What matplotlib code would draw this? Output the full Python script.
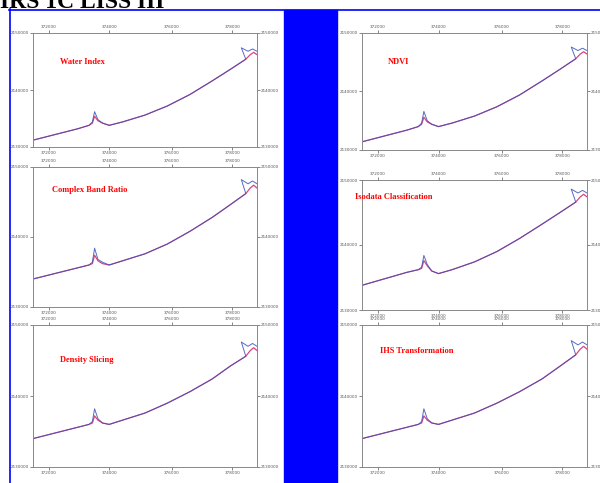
#Slide layout with six small trace panels comparing enhancement methods for IRS 1C LISS III.
import matplotlib.pyplot as plt

W, H = 600, 483

#Panel titles.
titles = ['Water Index', 'NDVI', 'Complex Band Ratio', 'Isodata Classification',
          'Density Slicing', 'IHS Transformation']

#Axis tick labels (map coordinates, hard to read on the slide).
x_ticks = [7, 34, 62, 89]
x_tick_labels = ['372000', '374000', '376000', '378000']
y_ticks = [0, 50, 100]
y_tick_labels = ['2130000', '2140000', '2150000']

#Shared x positions of the trace (percent of map width).
trace_x = [0, 5, 10, 15, 20, 25, 26.5, 27.5, 29, 31, 34, 40, 50, 60, 70, 80, 88, 95]

#Pink (red band) and blue (blue band) traces for each panel, percent of map height.
pink_y = [
    [6, 8.5, 11, 13.5, 16, 19, 21, 27, 23, 21, 19, 22, 28, 36, 46, 58, 68, 77],
    [7, 9.5, 12, 14.5, 17, 20, 22, 28, 24, 22, 20, 23, 29, 37, 47, 59, 69, 78],
    [20, 22, 24, 26, 28, 30, 31, 37, 33, 31, 30, 33, 38, 45, 54, 64, 73, 81],
    [19, 21.5, 24, 26.5, 29, 31, 32, 38, 34, 30, 28, 31, 37, 45, 55, 66, 75, 83],
    [20, 22, 24, 26, 28, 30, 31, 36, 33, 31, 30, 33, 38, 45, 53, 62, 71, 78],
    [20, 22, 24, 26, 28, 30, 31, 36, 33, 31, 30, 33, 38, 45, 53, 62, 71, 79],
]
blue_y = [
    [6, 8.5, 11, 13.5, 16, 19, 22, 31, 24, 21, 19, 22, 28, 36, 46, 58, 68, 77],
    [7, 9.5, 12, 14.5, 17, 20, 23, 33, 25, 22, 20, 23, 29, 37, 47, 59, 69, 78],
    [20, 22, 24, 26, 28, 30, 32, 42, 34, 32, 30, 33, 38, 45, 54, 64, 73, 81],
    [19, 21.5, 24, 26.5, 29, 31, 33, 42, 35, 30, 28, 31, 37, 45, 55, 66, 75, 83],
    [20, 22, 24, 26, 28, 30, 32, 41, 34, 31, 30, 33, 38, 45, 53, 62, 71, 78],
    [20, 22, 24, 26, 28, 30, 32, 41, 34, 31, 30, 33, 38, 45, 53, 62, 71, 79],
]

#Little wiggle at the right end of each trace.
end_x_pink = [95, 97, 98.5, 100]
end_x_blue = [95, 93, 96, 98, 100]
pink_end_dy = [0, 4, 6, 4]
blue_end_dy = [0, 10, 7, 9, 7]

#Panel frames in slide pixels: left, top, right, bottom.
frames = [
    (33, 33, 257, 147), (362, 33, 587, 150),
    (33, 167, 257, 307), (362, 180, 587, 310),
    (33, 325, 257, 467), (362, 325, 587, 467),
]
#Title positions in slide pixels.
title_pos = [(60, 62), (388, 62), (52, 190), (355, 197), (60, 360), (380, 351)]

fig = plt.figure(figsize=(W / 100, H / 100), dpi=100)
fig.patch.set_facecolor('white')

#Blue slide border and centre bar.
bg = fig.add_axes([0, 0, 1, 1])
bg.set_xlim(0, W)
bg.set_ylim(H, 0)
bg.axis('off')
bg.plot([9, W], [9.5, 9.5], color='#0000ff', lw=1.2)
bg.plot([9.5, 9.5], [9, H], color='#0000ff', lw=1.2)
bg.add_patch(plt.Rectangle((284, 10), 53, H - 10, color='#0000ff'))
fig.text(0, 1 - 8 / H, 'IRS 1C LISS III', fontsize=17, fontweight='bold',
         family='Liberation Serif', va='baseline', ha='left')

for i in range(6):
    l, t, r, b = frames[i]
    ax = fig.add_axes([l / W, 1 - b / H, (r - l) / W, (b - t) / H])
    ax.plot(trace_x + end_x_pink[1:], pink_y[i] + [pink_y[i][-1] + d for d in pink_end_dy[1:]],
            color='#d8457f', lw=0.9)
    ax.plot(trace_x + end_x_blue[1:], blue_y[i] + [blue_y[i][-1] + d for d in blue_end_dy[1:]],
            color='#3a50b8', lw=0.7, alpha=0.85)
    ax.set_xlim(0, 100)
    ax.set_ylim(0, 100)
    ax.set_xticks(x_ticks)
    ax.set_xticklabels(x_tick_labels)
    ax.set_yticks(y_ticks)
    ax.set_yticklabels(y_tick_labels)
    ax.tick_params(top=True, labeltop=True, right=True, labelright=True,
                   labelsize=3, length=2, width=0.5, colors='#555555', pad=1)
    for s in ax.spines.values():
        s.set_color('#888888')
        s.set_linewidth(0.7)
    tx, ty = title_pos[i]
    fig.text(tx / W, 1 - ty / H, titles[i], color='#ff0000', fontsize=6, fontweight='bold',
             family='Liberation Serif', va='center', ha='left')

fig.savefig('out.png', dpi=100)
